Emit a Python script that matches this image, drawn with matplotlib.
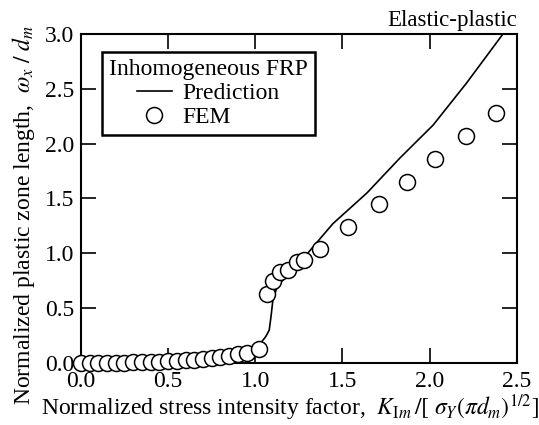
import matplotlib
matplotlib.use("Agg")
import matplotlib.pyplot as plt

plt.rcParams['font.family'] = ['Liberation Serif', 'DejaVu Serif']
plt.rcParams['mathtext.fontset'] = 'stix'

# prediction curve
pred_x = [0.0, 0.2, 0.4, 0.6, 0.8, 0.9, 0.95, 1.0, 1.03, 1.06, 1.08, 1.09, 1.10,
          1.12, 1.15, 1.2, 1.26, 1.3, 1.445, 1.64, 1.83, 2.02, 2.21, 2.42]
pred_y = [0.0, 0.005, 0.015, 0.03, 0.055, 0.08, 0.10, 0.13, 0.18, 0.24, 0.30, 0.42, 0.56,
          0.67, 0.74, 0.83, 0.93, 1.0, 1.27, 1.55, 1.87, 2.17, 2.55, 3.0]

# FEM results
fem_x = [0.0, 0.05, 0.1, 0.15, 0.2, 0.25, 0.3, 0.35, 0.4, 0.45, 0.5, 0.55, 0.6,
         0.65, 0.7, 0.75, 0.8, 0.85, 0.9, 0.95, 1.02,
         1.07, 1.10, 1.14, 1.19, 1.24, 1.28, 1.37, 1.53, 1.71, 1.87, 2.03, 2.21, 2.38]
fem_y = [0.0, 0.0, 0.0, 0.002, 0.003, 0.004, 0.006, 0.008, 0.01, 0.013, 0.016, 0.02, 0.024,
         0.03, 0.036, 0.044, 0.053, 0.065, 0.08, 0.095, 0.13,
         0.63, 0.75, 0.83, 0.85, 0.92, 0.94, 1.04, 1.24, 1.45, 1.65, 1.86, 2.07, 2.28]

fs = 17

fig = plt.figure(figsize=(5.39, 4.25), dpi=100)
ax = fig.add_axes([0.150, 0.146, 0.809, 0.774])

ax.plot(pred_x, pred_y, color='black', lw=1.2, label='Prediction', zorder=2)
ax.plot(fem_x, fem_y, 'o', ms=11.5, mfc='white', mec='black', mew=1.1,
        label='FEM', zorder=3, clip_on=False)

ax.set_xlim(0, 2.5)
ax.set_ylim(0, 3.0)
ax.set_xticks([0.0, 0.5, 1.0, 1.5, 2.0, 2.5])
ax.set_yticks([0.0, 0.5, 1.0, 1.5, 2.0, 2.5, 3.0])
ax.xaxis.set_major_formatter(matplotlib.ticker.FormatStrFormatter('%.1f'))
ax.yaxis.set_major_formatter(matplotlib.ticker.FormatStrFormatter('%.1f'))
ax.tick_params(direction='in', length=11, width=1.2, top=True, right=True, labelsize=17)
ax.tick_params(axis='x', pad=5.5)
ax.tick_params(axis='y', pad=5)
for s in ax.spines.values():
    s.set_linewidth(1.5)

ax.set_xlabel(r'Normalized stress intensity factor,  $K_{\mathrm{I}m}\,/[\ \sigma_Y(\pi d_m)^{1/2}]$',
              fontsize=fs)
ax.xaxis.set_label_coords(0.48, -0.09)
ax.set_ylabel(r'Normalized plastic zone length,  $\omega_x\ /\ d_m$', fontsize=fs)
ax.yaxis.set_label_coords(-0.10, 0.45)
ax.text(1.0, 1.01, 'Elastic-plastic', transform=ax.transAxes, ha='right', va='bottom',
        fontsize=16.5)

leg = ax.legend(title='Inhomogeneous FRP', loc='upper left', bbox_to_anchor=(0.048, 0.945),
                fontsize=fs, title_fontsize=fs, frameon=True, fancybox=False,
                edgecolor='black', framealpha=1, borderpad=0.3, handlelength=1.5,
                handletextpad=0.45, labelspacing=0.1, borderaxespad=0)
leg.get_frame().set_linewidth(1.8)

fig.savefig('out.png', dpi=100)
